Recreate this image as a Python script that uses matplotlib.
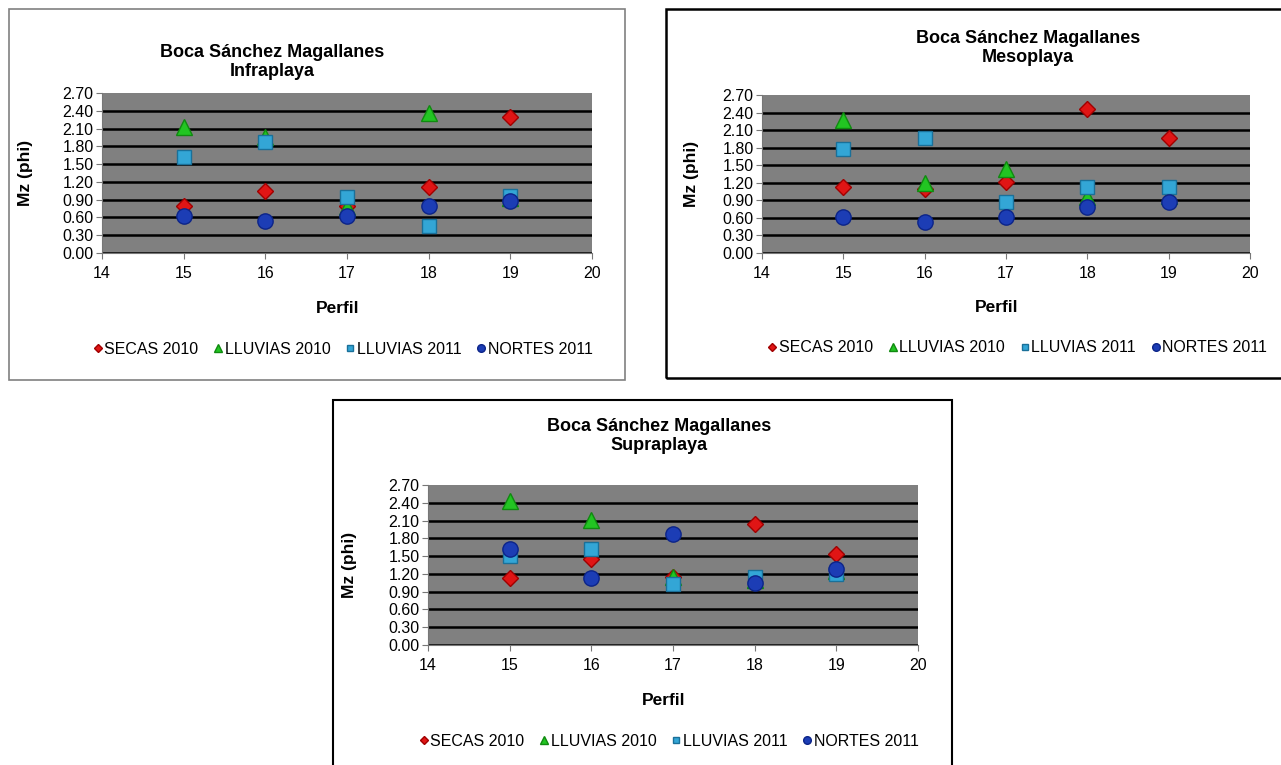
import numpy as np
import matplotlib.pyplot as plt
from matplotlib.patches import Rectangle

plt.rcParams['font.family'] = ['Liberation Sans', 'DejaVu Sans']

perfil = [15, 16, 17, 18, 19]
series = ['SECAS 2010', 'LLUVIAS 2010', 'LLUVIAS 2011', 'NORTES 2011']

# Infraplaya
infra_secas = [0.80, 1.04, 0.79, 1.12, 2.29]
infra_ll10 = [2.12, 1.95, 0.77, 2.36, 0.92]
infra_ll11 = [1.62, 1.87, 0.95, 0.45, 0.96]
infra_nortes = [0.62, 0.54, 0.62, 0.79, 0.88]

# Mesoplaya
meso_secas = [1.12, 1.10, 1.21, 2.46, 1.96]
meso_ll10 = [2.27, 1.19, 1.44, 0.96, 0.98]
meso_ll11 = [1.78, 1.96, 0.87, 1.13, 1.13]
meso_nortes = [0.62, 0.53, 0.62, 0.78, 0.87]

# Supraplaya
supra_secas = [1.13, 1.45, 1.15, 2.05, 1.54]
supra_ll10 = [2.43, 2.11, 1.15, 1.10, 1.25]
supra_ll11 = [1.51, 1.62, 1.03, 1.14, 1.20]
supra_nortes = [1.62, 1.13, 1.87, 1.04, 1.28]

yticks = [0.0, 0.3, 0.6, 0.9, 1.2, 1.5, 1.8, 2.1, 2.4, 2.7]
xticks = [14, 15, 16, 17, 18, 19, 20]

W, H = 1281, 765
fig = plt.figure(figsize=(W / 100, H / 100), dpi=100)


def rect(l, t, r, b):
    return [l / W, 1 - b / H, (r - l) / W, (b - t) / H]


styles = [
    dict(marker='D', color='#e01515', mec='#a00000', ms=8),
    dict(marker='^', color='#22c522', mec='#108a10', ms=11),
    dict(marker='s', color='#33a6d6', mec='#1a7099', ms=10),
    dict(marker='o', color='#1c3db5', mec='#0c2488', ms=11),
]


def panel(box, frame, frame_col, frame_lw, subtitle, title_x, title_y,
          ylab_x, leg_x, data):
    fig.patches.append(Rectangle((frame[0] / W, 1 - frame[3] / H),
                                 (frame[2] - frame[0]) / W,
                                 (frame[3] - frame[1]) / H,
                                 transform=fig.transFigure, fill=False,
                                 edgecolor=frame_col, linewidth=frame_lw))
    ax = fig.add_axes(rect(*box))
    ax.set_facecolor('#808080')
    for vals, name, st in zip(data, series, styles):
        ax.plot(perfil, vals, linestyle='none', label=name, **st)
    ax.set_xlim(14, 20)
    ax.set_ylim(0, 2.7)
    ax.set_xticks(xticks)
    ax.set_yticks(yticks)
    ax.set_yticklabels(['%.2f' % v for v in yticks])
    ax.grid(axis='y', color='black', linewidth=1.8)
    ax.set_axisbelow(True)
    ax.yaxis.get_gridlines()[-1].set_visible(False)
    for s in ['top', 'right']:
        ax.spines[s].set_visible(False)
    for s in ['left', 'bottom']:
        ax.spines[s].set_color('#777777')
    ax.tick_params(colors='#777777', labelcolor='black', labelsize=11.5,
                   length=4, pad=2)
    ax.tick_params(axis='x', pad=5)
    ax.set_ylabel('Mz (phi)', fontsize=12.5, fontweight='bold')
    ax.yaxis.set_label_coords(ylab_x, 0.5)
    ax.set_xlabel('Perfil', fontsize=12.5, fontweight='bold')
    ax.xaxis.set_label_coords(0.48, -0.3)
    fig.text(title_x / W, 1 - title_y / H,
             'Boca Sánchez Magallanes\n' + subtitle,
             ha='center', va='center', fontsize=13, fontweight='bold',
             linespacing=1.1)
    ax.legend(loc='center left', bbox_to_anchor=(leg_x, -0.6), ncol=4,
              frameon=False, fontsize=11.5, markerscale=0.5,
              handlelength=0.5, handletextpad=0.15, columnspacing=1.0,
              borderaxespad=0)
    return ax


panel((102, 93, 592, 253), (9, 9, 625, 380), '#808080', 1.2, 'Infraplaya',
      272, 62, -0.14, -0.03,
      [infra_secas, infra_ll10, infra_ll11, infra_nortes])
panel((762, 95, 1250, 253), (666, 9, 1290, 378), 'black', 1.8, 'Mesoplaya',
      1028, 48, -0.13, 0.0,
      [meso_secas, meso_ll10, meso_ll11, meso_nortes])
panel((428, 485, 918, 645), (333, 400, 952, 770), 'black', 1.5, 'Supraplaya',
      659, 436, -0.145, -0.03,
      [supra_secas, supra_ll10, supra_ll11, supra_nortes])

plt.savefig('out.png', dpi=100)
